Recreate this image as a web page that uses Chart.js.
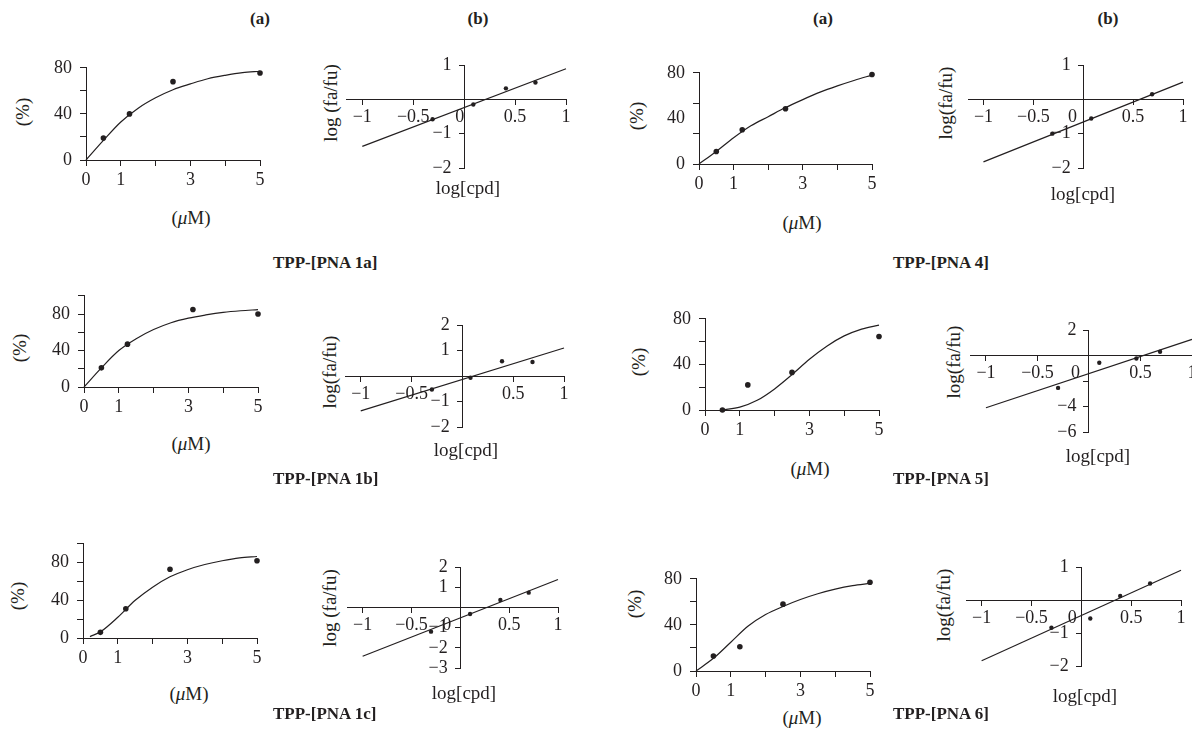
<!DOCTYPE html>
<html>
<head>
<meta charset="utf-8">
<script src="https://cdn.jsdelivr.net/npm/chart.js@4.4.0/dist/chart.umd.min.js"></script>
<style>
  html, body { margin: 0; padding: 0; background: #fff; overflow: hidden; }
  body { position: relative; width: 1192px; height: 738px; font-family: 'Liberation Serif', 'Times New Roman', serif; color: #231f20; }
  canvas { position: absolute; }
  .txt { position: absolute; white-space: nowrap; transform: translate(-50%, -50%); font-size: 19px; line-height: 1; }
  .rot { transform: translate(-50%, -50%) rotate(-90deg); }
  .head { font-weight: bold; font-size: 17px; }
  .cap { font-weight: bold; font-size: 17px; transform: translate(0, -50%); }
</style>
</head>
<body>
<script>
// concentrations (uM) and % inhibition
const conc1a = [0.5, 1.25, 2.5, 5];
const inhib1a = [19, 40, 68, 75.5];
const conc4 = [0.5, 1.25, 2.5, 5];
const inhib4 = [11, 30, 48.5, 78.5];
const conc1b = [0.5, 1.25, 3.13, 5];
const inhib1b = [21, 47, 85, 80];
const conc5 = [0.5, 1.23, 2.5, 5];
const inhib5 = [0, 22, 33, 64.5];
const conc1c = [0.5, 1.23, 2.5, 5];
const inhib1c = [6, 31, 73, 82];
const conc6 = [0.5, 1.26, 2.5, 5];
const inhib6 = [13, 21, 58, 77];

// fitted curves
const fitX = [0, 0.5, 1, 1.5, 2, 2.5, 3, 3.5, 4, 4.5, 5];
const fit1a = [0, 17, 33, 45, 54, 61, 66, 70.5, 73.5, 75.8, 77];
const fit4 = [0, 11, 23, 33.5, 41.5, 49.5, 56.5, 63, 68.5, 73.5, 78];
const fit1b = [0, 21, 40, 53, 63, 70.5, 75.5, 79, 81.8, 83.6, 84.8];
const fit5X = [0.5, 1, 1.5, 2, 2.5, 3, 3.5, 4, 4.5, 5];
const fit5 = [0, 2.5, 8.5, 18.5, 31, 44.5, 56, 65, 71, 74.5];
const fit1cX = [0.2, 0.5, 1, 1.5, 2, 2.5, 3, 3.5, 4, 4.5, 5];
const fit1c = [1.5, 6.5, 22, 40, 54, 65, 72.5, 78, 82, 85, 86.5];
const fit6 = [0, 11, 25, 39, 49, 56, 62, 67, 71, 74, 76];

// log[cpd] vs log(fa/fu), right-hand plots
const logX1a = [-0.31, 0.09, 0.41, 0.70];
const logY1a = [-0.58, -0.15, 0.32, 0.49];
const logX4 = [-0.31, 0.08, 0.69];
const logY4 = [-1.0, -0.56, 0.15];
const logX1b = [-0.30, 0.08, 0.39, 0.69];
const logY1b = [-0.53, -0.07, 0.58, 0.55];
const logX5 = [-0.30, 0.10, 0.46, 0.69];
const logY5 = [-2.54, -0.57, -0.23, 0.29];
const logX1c = [-0.30, 0.10, 0.41, 0.70];
const logY1c = [-1.2, -0.33, 0.37, 0.73];
const logX6 = [-0.30, 0.09, 0.39, 0.69];
const logY6 = [-0.84, -0.56, 0.12, 0.50];

// regression lines, ends at log[cpd] = -1 and 1
const lineX = [-1, 1];
const line1a = [-1.37, 0.89];
const line4 = [-1.82, 0.5];
const line1b = [-1.37, 1.1];
const line5 = [-4.1, 1.27];
const line1c = [-2.42, 1.38];
const line6 = [-1.84, 0.9];

// tick values
const inhibXTicks = [0, 1, 2, 3, 4, 5];
const inhibXLabels = [0, 1, 3, 5];
const logXTicks = [-1, -0.5, 0, 0.5, 1];

const INK = '#231f20';
Chart.defaults.font.family = "'Liberation Serif', 'Times New Roman', serif";
Chart.defaults.font.size = 18;
Chart.defaults.color = INK;

const fmt = v => (v < 0 ? '\u2212' + Math.abs(v) : String(v));
const pts = (xs, ys) => xs.map((x, i) => ({ x: x, y: ys[i] }));
const fixedTicks = values => scale => { scale.ticks = values.map(v => ({ value: v })); };

function makeCanvas(left, top, w, h) {
    const c = document.createElement('canvas');
    c.width = w;
    c.height = h;
    c.style.left = left + 'px';
    c.style.top = top + 'px';
    c.style.width = w + 'px';
    c.style.height = h + 'px';
    document.body.appendChild(c);
    return c;
}

function addText(html, x, y, cls) {
    const d = document.createElement('div');
    d.className = 'txt ' + (cls || '');
    d.innerHTML = html;
    d.style.left = x + 'px';
    d.style.top = y + 'px';
    document.body.appendChild(d);
}

const baseOptions = padding => ({
    responsive: false,
    animation: false,
    events: [],
    layout: { autoPadding: false, padding: padding },
    plugins: { legend: { display: false }, tooltip: { enabled: false } },
});

// box = [left, right, top, bottom] of the plot area in page pixels
function inhibitionChart(p) {
    const padT = 14, padR = 16, yW = 48, xH = 34;
    const [l, r, t, b] = p.box;
    const canvas = makeCanvas(l - yW, t - padT, r - l + yW + padR, b - t + padT + xH);
    const yTicks = p.yTicks || (p.yMax === 100 ? [0, 20, 40, 60, 80, 100] : [0, 20, 40, 60, 80]);
    const noMark = p.noMark || [];

    new Chart(canvas, {
        type: 'scatter',
        data: {
            datasets: [
                {
                    data: pts(p.fitX, p.fitY),
                    showLine: true,
                    borderColor: INK,
                    borderWidth: 1.2,
                    pointRadius: 0,
                    cubicInterpolationMode: 'monotone',
                    clip: false,
                },
                {
                    data: pts(p.x, p.y),
                    backgroundColor: INK,
                    borderWidth: 0,
                    pointRadius: 2.8,
                    clip: false,
                },
            ],
        },
        options: {
            ...baseOptions({ top: padT, right: padR, left: 0, bottom: 0 }),
            scales: {
                x: {
                    type: 'linear',
                    min: 0,
                    max: 5,
                    afterBuildTicks: fixedTicks(inhibXTicks),
                    afterFit: s => { s.height = xH; },
                    grid: { drawOnChartArea: false, tickLength: 6, tickColor: INK },
                    border: { color: INK, width: 1 },
                    ticks: {
                        padding: 3,
                        maxRotation: 0,
                        autoSkip: false,
                        callback: v => (inhibXLabels.includes(v) ? String(v) : ''),
                    },
                },
                y: {
                    type: 'linear',
                    min: 0,
                    max: p.yMax,
                    afterBuildTicks: fixedTicks(yTicks),
                    afterFit: s => { s.width = yW; },
                    grid: {
                        drawOnChartArea: false,
                        tickLength: 6,
                        tickColor: ctx => (ctx.tick && noMark.includes(ctx.tick.value) ? 'rgba(0,0,0,0)' : INK),
                    },
                    border: { color: INK, width: 1 },
                    ticks: {
                        padding: 8,
                        autoSkip: false,
                        callback: v => ([0, 40, 80].includes(v) ? String(v) : ''),
                    },
                },
            },
        },
    });
}

function logChart(p) {
    const padL = 4, padT = 14, padR = 14, padB = 32;
    const [l, r, t, b] = p.box;
    const canvas = makeCanvas(l - padL, t - padT, r - l + padL + padR, b - t + padT + padB);

    new Chart(canvas, {
        type: 'scatter',
        data: {
            datasets: [
                {
                    data: pts(lineX, p.line),
                    showLine: true,
                    borderColor: INK,
                    borderWidth: 1.2,
                    pointRadius: 0,
                    clip: false,
                },
                {
                    data: pts(p.x, p.y),
                    backgroundColor: INK,
                    borderWidth: 0,
                    pointRadius: 2.2,
                    clip: false,
                },
            ],
        },
        options: {
            ...baseOptions({ top: padT, right: padR, left: padL, bottom: padB }),
            scales: {
                x: {
                    type: 'linear',
                    position: { y: 0 },
                    min: p.xMin,
                    max: 1,
                    afterBuildTicks: fixedTicks(logXTicks),
                    grid: { drawOnChartArea: false, tickLength: 5, tickColor: INK },
                    border: { color: INK, width: 1 },
                    ticks: {
                        padding: 2,
                        maxRotation: 0,
                        autoSkip: false,
                        callback: v => (v === 0 ? p.zero : fmt(v)),
                    },
                },
                y: {
                    type: 'linear',
                    position: { x: 0 },
                    min: p.yTicks[0],
                    max: p.yTicks[p.yTicks.length - 1],
                    afterBuildTicks: fixedTicks(p.yTicks),
                    grid: { drawOnChartArea: false, tickLength: 5, tickColor: INK },
                    border: { color: INK, width: 1 },
                    ticks: {
                        autoSkip: false,
                        // labels of an axis placed at x = 0 sit right on the axis line, so push them left
                        callback: v => (p.yLabels.includes(v) ? fmt(v) + '\u2002\u2009' : ''),
                    },
                },
            },
        },
    });
}

// left column
inhibitionChart({ box: [86, 260, 63, 160], yMax: 80, x: conc1a, y: inhib1a, fitX: fitX, fitY: fit1a });
logChart({ box: [346, 566, 65, 168], xMin: -1.16, yTicks: [-2, -1, 0, 1], yLabels: [-2, -1, 1],
    x: logX1a, y: logY1a, line: line1a, zero: '0\u2002' });
inhibitionChart({ box: [84, 258, 291, 387], yMax: 100, x: conc1b, y: inhib1b, fitX: fitX, fitY: fit1b });
logChart({ box: [345, 564, 325, 427], xMin: -1.155, yTicks: [-2, -1, 0, 1, 2], yLabels: [-2, -1, 1, 2],
    x: logX1b, y: logY1b, line: line1b, zero: '' });
inhibitionChart({ box: [83, 257, 539, 638], yMax: 100, x: conc1c, y: inhib1c, fitX: fit1cX, fitY: fit1c });
logChart({ box: [347, 558, 567, 668], xMin: -1.16, yTicks: [-3, -2, -1, 0, 1, 2], yLabels: [-3, -2, -1, 1, 2],
    x: logX1c, y: logY1c, line: line1c, zero: '0\u2003\u2002' });

// right column
inhibitionChart({ box: [699, 872, 68, 164], yMax: 80, yTicks: [0, 80 / 3, 40, 160 / 3, 80], noMark: [40],
    x: conc4, y: inhib4, fitX: fitX, fitY: fit4 });
logChart({ box: [968, 1183, 65, 168], xMin: -1.155, yTicks: [-2, -1, 0, 1], yLabels: [-2, -1, 1],
    x: logX4, y: logY4, line: line4, zero: '0\u2003\u2009' });
inhibitionChart({ box: [705, 879, 314, 410], yMax: 80, x: conc5, y: inhib5, fitX: fit5X, fitY: fit5 });
logChart({ box: [970, 1192, 330, 432], xMin: -1.155, yTicks: [-6, -4, -2, 0, 2], yLabels: [-6, -4, 2],
    x: logX5, y: logY5, line: line5, zero: '0\u2003\u2002' });
inhibitionChart({ box: [696, 870, 574, 671], yMax: 80, x: conc6, y: inhib6, fitX: fitX, fitY: fit6 });
logChart({ box: [966, 1181, 567, 666], xMin: -1.157, yTicks: [-2, -1, 0, 1], yLabels: [-2, -1, 1],
    x: logX6, y: logY6, line: line6, zero: '0\u2003' });

// column headers
addText('(a)', 260, 18, 'head');
addText('(b)', 478, 18, 'head');
addText('(a)', 823, 18, 'head');
addText('(b)', 1108, 18, 'head');

// axis titles
const mu = '(<i>\u03bc</i>M)';
[[191, 217], [802, 222], [191, 443], [810, 468], [189, 693], [802, 717]]
    .forEach(([x, y]) => addText(mu, x, y));
[[22, 112], [636, 116], [19, 348], [638, 362], [17, 596], [634, 604]]
    .forEach(([x, y]) => addText('(%)', x, y, 'rot'));
[[330, 103, 'log (fa/fu)'], [945, 103, 'log(fa/fu)'], [329, 372, 'log(fa/fu)'],
 [953, 362, 'log(fa/fu)'], [329, 608, 'log (fa/fu)'], [943, 605, 'log(fa/fu)']]
    .forEach(([x, y, s]) => addText(s, x, y, 'rot'));
[[468, 187], [1083, 193], [466, 449], [1098, 455], [464, 692], [1085, 695]]
    .forEach(([x, y]) => addText('log[cpd]', x, y));

// compound captions
[['TPP-[PNA 1a]', 273, 262], ['TPP-[PNA 4]', 893, 262], ['TPP-[PNA 1b]', 273, 478],
 ['TPP-[PNA 5]', 893, 478], ['TPP-[PNA 1c]', 273, 713], ['TPP-[PNA 6]', 893, 713]]
    .forEach(([s, x, y]) => addText(s, x, y, 'cap'));
</script>
</body>
</html>
